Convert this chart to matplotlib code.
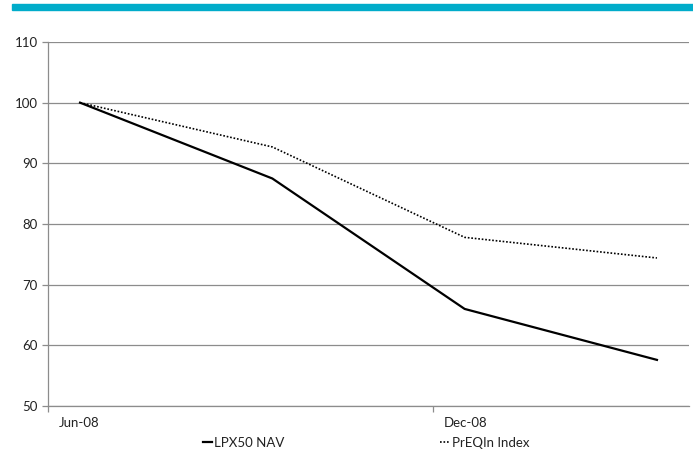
import matplotlib
matplotlib.use("Agg")
import matplotlib.pyplot as plt
from matplotlib.patches import Rectangle

matplotlib.rcParams.update({
    'font.family': ['Lato', 'DejaVu Sans'],
    'font.size': 9.5,
})

# months since Jun-08 (mid-quarter observations)
months = [0.5, 3.5, 6.5, 9.5]
lpx50_nav = [100.0, 87.5, 66.0, 57.6]
preqin_index = [100.0, 92.7, 77.8, 74.4]
xtick_pos = [0, 6]
xtick_labels = ['Jun-08', 'Dec-08']
yticks = [50, 60, 70, 80, 90, 100, 110]

fig = plt.figure(figsize=(6.93, 4.5), dpi=100)
ax = fig.add_axes([48 / 693, 1 - 406 / 450, 641 / 693, 364 / 450])

# teal band across the top
fig.patches.append(Rectangle((12 / 693, 1 - 10 / 450), 681 / 693, 6 / 450,
                             transform=fig.transFigure, color='#00acca', zorder=0))

grid_c = '#8c8c8c'
ax.plot(months, lpx50_nav, color='black', lw=1.6, label='LPX50 NAV')
ax.plot(months, preqin_index, color='black', lw=1.2, ls=(0, (1, 1.1)), label='PrEQIn Index')

ax.set_xlim(0, 10)
ax.set_ylim(50, 110)
ax.set_yticks(yticks)
ax.set_xticks(xtick_pos)
ax.set_xticklabels([])
# tick labels sit to the right of their ticks
for x, lab in zip(xtick_pos, xtick_labels):
    ax.annotate(lab, xy=(x, 0), xycoords=('data', 'axes fraction'),
                xytext=(8, -12), textcoords='offset points',
                ha='left', va='center', color='#222222', fontsize=9.5)

ax.yaxis.grid(True, color=grid_c, lw=0.9)
ax.set_axisbelow(True)
for s in ['top', 'right']:
    ax.spines[s].set_visible(False)
for s in ['left', 'bottom']:
    ax.spines[s].set_color(grid_c)
    ax.spines[s].set_linewidth(0.9)
ax.tick_params(axis='both', color=grid_c, length=4, width=0.9, labelcolor='#222222')

leg = fig.legend(loc='center left', bbox_to_anchor=(203 / 693, 1 - 443 / 450), ncol=2,
                 frameon=False, handlelength=0.7, handletextpad=0.15, columnspacing=11.8,
                 borderaxespad=0, borderpad=0, fontsize=9.5)
for t in leg.get_texts():
    t.set_color('#222222')

fig.savefig('out.png', dpi=100)
